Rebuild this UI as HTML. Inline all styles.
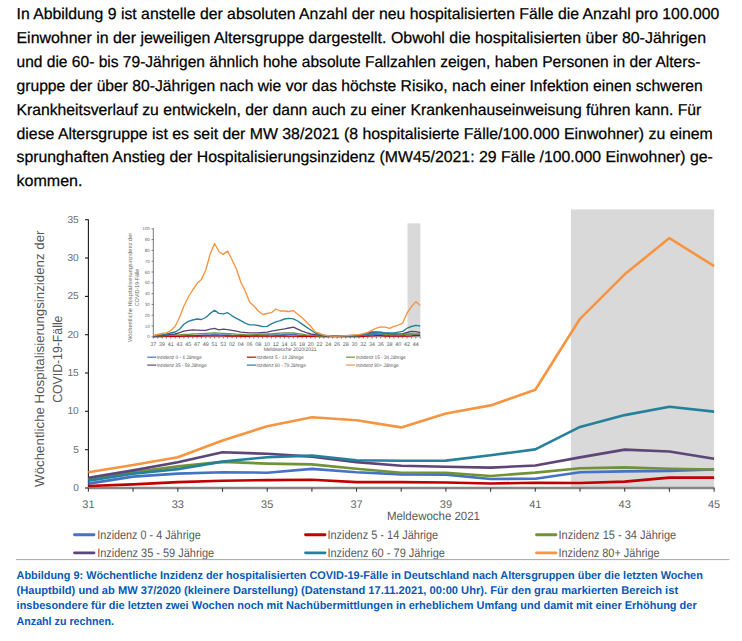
<!DOCTYPE html>
<html><head><meta charset="utf-8"><style>
html,body{margin:0;padding:0;background:#fff;width:742px;height:641px;overflow:hidden}
svg{display:block;font-family:'Liberation Sans', sans-serif;text-rendering:geometricPrecision}
</style></head><body>
<svg width="742" height="641" viewBox="0 0 742 641">
<text x="16.5" y="19.0" font-size="15.8" fill="#000" textLength="702.9" lengthAdjust="spacingAndGlyphs" stroke="#000" stroke-width="0.25">In Abbildung 9 ist anstelle der absoluten Anzahl der neu hospitalisierten Fälle die Anzahl pro 100.000</text>
<text x="16.5" y="42.9" font-size="15.8" fill="#000" textLength="689.5" lengthAdjust="spacingAndGlyphs" stroke="#000" stroke-width="0.25">Einwohner in der jeweiligen Altersgruppe dargestellt. Obwohl die hospitalisierten über 80-Jährigen</text>
<text x="16.5" y="66.8" font-size="15.8" fill="#000" textLength="683.9" lengthAdjust="spacingAndGlyphs" stroke="#000" stroke-width="0.25">und die 60- bis 79-Jährigen ähnlich hohe absolute Fallzahlen zeigen, haben Personen in der Alters-</text>
<text x="16.5" y="90.7" font-size="15.8" fill="#000" textLength="686.3" lengthAdjust="spacingAndGlyphs" stroke="#000" stroke-width="0.25">gruppe der über 80-Jährigen nach wie vor das höchste Risiko, nach einer Infektion einen schweren</text>
<text x="16.5" y="114.6" font-size="15.8" fill="#000" textLength="684.8" lengthAdjust="spacingAndGlyphs" stroke="#000" stroke-width="0.25">Krankheitsverlauf zu entwickeln, der dann auch zu einer Krankenhauseinweisung führen kann. Für</text>
<text x="16.5" y="138.5" font-size="15.8" fill="#000" textLength="696.3" lengthAdjust="spacingAndGlyphs" stroke="#000" stroke-width="0.25">diese Altersgruppe ist es seit der MW 38/2021 (8 hospitalisierte Fälle/100.000 Einwohner) zu einem</text>
<text x="16.5" y="162.4" font-size="15.8" fill="#000" textLength="696.3" lengthAdjust="spacingAndGlyphs" stroke="#000" stroke-width="0.25">sprunghaften Anstieg der Hospitalisierungsinzidenz (MW45/2021: 29 Fälle /100.000 Einwohner) ge-</text>
<text x="16.5" y="186.3" font-size="15.8" fill="#000" textLength="66.0" lengthAdjust="spacingAndGlyphs" stroke="#000" stroke-width="0.25">kommen.</text>
<rect x="570.9" y="209.4" width="143.2" height="278.6" fill="#d9d9d9"/>
<line x1="88.4" y1="219.4" x2="88.4" y2="488" stroke="#1a1a1a" stroke-width="1.1"/>
<line x1="85" y1="488.0" x2="88.4" y2="488.0" stroke="#1a1a1a" stroke-width="1.1"/>
<text x="78.8" y="491.0" font-size="10.2" text-anchor="end" fill="#6e6e6e">0</text>
<line x1="85" y1="449.7" x2="88.4" y2="449.7" stroke="#1a1a1a" stroke-width="1.1"/>
<text x="78.8" y="452.7" font-size="10.2" text-anchor="end" fill="#6e6e6e">5</text>
<line x1="85" y1="411.3" x2="88.4" y2="411.3" stroke="#1a1a1a" stroke-width="1.1"/>
<text x="78.8" y="414.3" font-size="10.2" text-anchor="end" fill="#6e6e6e">10</text>
<line x1="85" y1="373.0" x2="88.4" y2="373.0" stroke="#1a1a1a" stroke-width="1.1"/>
<text x="78.8" y="376.0" font-size="10.2" text-anchor="end" fill="#6e6e6e">15</text>
<line x1="85" y1="334.7" x2="88.4" y2="334.7" stroke="#1a1a1a" stroke-width="1.1"/>
<text x="78.8" y="337.7" font-size="10.2" text-anchor="end" fill="#6e6e6e">20</text>
<line x1="85" y1="296.4" x2="88.4" y2="296.4" stroke="#1a1a1a" stroke-width="1.1"/>
<text x="78.8" y="299.4" font-size="10.2" text-anchor="end" fill="#6e6e6e">25</text>
<line x1="85" y1="258.0" x2="88.4" y2="258.0" stroke="#1a1a1a" stroke-width="1.1"/>
<text x="78.8" y="261.0" font-size="10.2" text-anchor="end" fill="#6e6e6e">30</text>
<line x1="85" y1="219.7" x2="88.4" y2="219.7" stroke="#1a1a1a" stroke-width="1.1"/>
<text x="78.8" y="222.7" font-size="10.2" text-anchor="end" fill="#6e6e6e">35</text>
<line x1="87.9" y1="488" x2="714.6" y2="488" stroke="#868686" stroke-width="2.4"/>
<line x1="88.4" y1="488" x2="88.4" y2="491.8" stroke="#404040" stroke-width="1.1"/>
<text x="88.4" y="508.0" font-size="11" text-anchor="middle" fill="#636363">31</text>
<line x1="133.1" y1="488" x2="133.1" y2="491.8" stroke="#404040" stroke-width="1.1"/>
<line x1="177.8" y1="488" x2="177.8" y2="491.8" stroke="#404040" stroke-width="1.1"/>
<text x="177.8" y="508.0" font-size="11" text-anchor="middle" fill="#636363">33</text>
<line x1="222.5" y1="488" x2="222.5" y2="491.8" stroke="#404040" stroke-width="1.1"/>
<line x1="267.2" y1="488" x2="267.2" y2="491.8" stroke="#404040" stroke-width="1.1"/>
<text x="267.2" y="508.0" font-size="11" text-anchor="middle" fill="#636363">35</text>
<line x1="311.9" y1="488" x2="311.9" y2="491.8" stroke="#404040" stroke-width="1.1"/>
<line x1="356.5" y1="488" x2="356.5" y2="491.8" stroke="#404040" stroke-width="1.1"/>
<text x="356.5" y="508.0" font-size="11" text-anchor="middle" fill="#636363">37</text>
<line x1="401.2" y1="488" x2="401.2" y2="491.8" stroke="#404040" stroke-width="1.1"/>
<line x1="445.9" y1="488" x2="445.9" y2="491.8" stroke="#404040" stroke-width="1.1"/>
<text x="445.9" y="508.0" font-size="11" text-anchor="middle" fill="#636363">39</text>
<line x1="490.6" y1="488" x2="490.6" y2="491.8" stroke="#404040" stroke-width="1.1"/>
<line x1="535.3" y1="488" x2="535.3" y2="491.8" stroke="#404040" stroke-width="1.1"/>
<text x="535.3" y="508.0" font-size="11" text-anchor="middle" fill="#636363">41</text>
<line x1="580.0" y1="488" x2="580.0" y2="491.8" stroke="#404040" stroke-width="1.1"/>
<line x1="624.7" y1="488" x2="624.7" y2="491.8" stroke="#404040" stroke-width="1.1"/>
<text x="624.7" y="508.0" font-size="11" text-anchor="middle" fill="#636363">43</text>
<line x1="669.4" y1="488" x2="669.4" y2="491.8" stroke="#404040" stroke-width="1.1"/>
<line x1="714.1" y1="488" x2="714.1" y2="491.8" stroke="#404040" stroke-width="1.1"/>
<text x="714.1" y="508.0" font-size="11" text-anchor="middle" fill="#636363">45</text>
<polyline points="88.4,483.6 133.1,476.6 177.8,473.6 222.5,472.2 267.2,472.7 311.9,468.9 356.5,472.3 401.2,474.4 445.9,474.6 490.6,479.0 535.3,478.7 580.0,472.2 624.7,471.4 669.4,470.9 714.1,469.5" fill="none" stroke="#4472c4" stroke-width="2.6" stroke-linejoin="round" stroke-linecap="butt"/>
<polyline points="88.4,486.0 133.1,484.4 177.8,482.1 222.5,480.7 267.2,480.1 311.9,479.7 356.5,482.1 401.2,482.1 445.9,482.5 490.6,483.5 535.3,482.7 580.0,483.0 624.7,481.6 669.4,477.6 714.1,477.6" fill="none" stroke="#c00000" stroke-width="2.6" stroke-linejoin="round" stroke-linecap="butt"/>
<polyline points="88.4,479.2 133.1,472.3 177.8,466.4 222.5,461.9 267.2,463.6 311.9,464.4 356.5,468.8 401.2,472.8 445.9,472.8 490.6,476.0 535.3,472.6 580.0,468.2 624.7,467.4 669.4,468.7 714.1,469.5" fill="none" stroke="#719237" stroke-width="2.6" stroke-linejoin="round" stroke-linecap="butt"/>
<polyline points="88.4,477.8 133.1,470.4 177.8,462.2 222.5,452.2 267.2,453.8 311.9,456.6 356.5,462.1 401.2,465.7 445.9,466.8 490.6,467.6 535.3,465.5 580.0,457.4 624.7,449.6 669.4,451.5 714.1,458.7" fill="none" stroke="#5c4579" stroke-width="2.6" stroke-linejoin="round" stroke-linecap="butt"/>
<polyline points="88.4,480.6 133.1,473.8 177.8,469.1 222.5,461.6 267.2,457.2 311.9,455.6 356.5,460.3 401.2,460.8 445.9,460.6 490.6,455.2 535.3,449.4 580.0,426.9 624.7,415.1 669.4,406.7 714.1,411.6" fill="none" stroke="#25809a" stroke-width="2.6" stroke-linejoin="round" stroke-linecap="butt"/>
<polyline points="88.4,472.2 133.1,465.0 177.8,457.2 222.5,440.5 267.2,426.2 311.9,417.3 356.5,420.2 401.2,427.4 445.9,413.5 490.6,405.4 535.3,389.7 580.0,318.8 624.7,274.3 669.4,238.1 714.1,266.1" fill="none" stroke="#f79440" stroke-width="2.6" stroke-linejoin="round" stroke-linecap="butt"/>
<g transform="translate(44.3,358.7) rotate(-90)">
<text x="0.0" y="0.0" font-size="13.2" text-anchor="middle" fill="#595959" textLength="256.4" lengthAdjust="spacingAndGlyphs">Wöchentliche Hospitalisierungsinzidenz der</text>
<text x="-0.5" y="17.8" font-size="13.2" text-anchor="middle" fill="#595959" textLength="87.3" lengthAdjust="spacingAndGlyphs">COVID-19-Fälle</text>
</g>
<text x="386.9" y="519.5" font-size="12" fill="#595959" textLength="93.1" lengthAdjust="spacingAndGlyphs">Meldewoche 2021</text>
<line x1="74.5" y1="534.75" x2="94" y2="534.75" stroke="#4472c4" stroke-width="2.8" stroke-linecap="round"/>
<text x="97.2" y="538.6" font-size="12.3" fill="#595959" textLength="103.5" lengthAdjust="spacingAndGlyphs">Inzidenz 0 - 4 Jährige</text>
<line x1="74.5" y1="552.8" x2="94" y2="552.8" stroke="#5c4579" stroke-width="2.8" stroke-linecap="round"/>
<text x="97.2" y="556.7" font-size="12.3" fill="#595959" textLength="117.0" lengthAdjust="spacingAndGlyphs">Inzidenz 35 - 59 Jährige</text>
<line x1="305.5" y1="534.75" x2="325" y2="534.75" stroke="#c00000" stroke-width="2.8" stroke-linecap="round"/>
<text x="327.4" y="538.6" font-size="12.3" fill="#595959" textLength="110.8" lengthAdjust="spacingAndGlyphs">Inzidenz 5 - 14 Jährige</text>
<line x1="305.5" y1="552.8" x2="325" y2="552.8" stroke="#25809a" stroke-width="2.8" stroke-linecap="round"/>
<text x="327.4" y="556.7" font-size="12.3" fill="#595959" textLength="117.6" lengthAdjust="spacingAndGlyphs">Inzidenz 60 - 79 Jährige</text>
<line x1="536.5" y1="534.75" x2="556" y2="534.75" stroke="#719237" stroke-width="2.8" stroke-linecap="round"/>
<text x="558.5" y="538.6" font-size="12.3" fill="#595959" textLength="117.7" lengthAdjust="spacingAndGlyphs">Inzidenz 15 - 34 Jährige</text>
<line x1="536.5" y1="552.8" x2="556" y2="552.8" stroke="#f79440" stroke-width="2.8" stroke-linecap="round"/>
<text x="558.5" y="556.7" font-size="12.3" fill="#595959" textLength="101.2" lengthAdjust="spacingAndGlyphs">Inzidenz 80+ Jährige</text>
<line x1="16" y1="559.6" x2="729.5" y2="559.6" stroke="#a6a6a6" stroke-width="1"/>
<text x="16.6" y="578.9" font-size="11.2" font-weight="bold" fill="#0559b8" textLength="686.2" lengthAdjust="spacingAndGlyphs">Abbildung 9: Wöchentliche Inzidenz der hospitalisierten COVID-19-Fälle in Deutschland nach Altersgruppen über die letzten Wochen</text>
<text x="16.6" y="594.1" font-size="11.2" font-weight="bold" fill="#0559b8" textLength="661.5" lengthAdjust="spacingAndGlyphs">(Hauptbild) und ab MW 37/2020 (kleinere Darstellung) (Datenstand 17.11.2021, 00:00 Uhr). Für den grau markierten Bereich ist</text>
<text x="16.6" y="609.4" font-size="11.2" font-weight="bold" fill="#0559b8" textLength="680.1" lengthAdjust="spacingAndGlyphs">insbesondere für die letzten zwei Wochen noch mit Nachübermittlungen in erheblichem Umfang und damit mit einer Erhöhung der</text>
<text x="16.6" y="624.6" font-size="11.2" font-weight="bold" fill="#0559b8" textLength="97.3" lengthAdjust="spacingAndGlyphs">Anzahl zu rechnen.</text>
<rect x="407.5" y="223.3" width="12.9" height="113.5" fill="#d9d9d9"/>
<line x1="153.3" y1="228.3" x2="153.3" y2="336.8" stroke="#6a6a6a" stroke-width="0.9"/>
<line x1="151.5" y1="336.8" x2="153.3" y2="336.8" stroke="#555" stroke-width="0.7"/>
<text x="149.7" y="338.4" font-size="4.5" text-anchor="end" fill="#707070">0</text>
<line x1="151.5" y1="326.0" x2="153.3" y2="326.0" stroke="#555" stroke-width="0.7"/>
<text x="149.7" y="327.6" font-size="4.5" text-anchor="end" fill="#707070">10</text>
<line x1="151.5" y1="315.2" x2="153.3" y2="315.2" stroke="#555" stroke-width="0.7"/>
<text x="149.7" y="316.8" font-size="4.5" text-anchor="end" fill="#707070">20</text>
<line x1="151.5" y1="304.4" x2="153.3" y2="304.4" stroke="#555" stroke-width="0.7"/>
<text x="149.7" y="306.0" font-size="4.5" text-anchor="end" fill="#707070">30</text>
<line x1="151.5" y1="293.6" x2="153.3" y2="293.6" stroke="#555" stroke-width="0.7"/>
<text x="149.7" y="295.2" font-size="4.5" text-anchor="end" fill="#707070">40</text>
<line x1="151.5" y1="282.8" x2="153.3" y2="282.8" stroke="#555" stroke-width="0.7"/>
<text x="149.7" y="284.4" font-size="4.5" text-anchor="end" fill="#707070">50</text>
<line x1="151.5" y1="272.0" x2="153.3" y2="272.0" stroke="#555" stroke-width="0.7"/>
<text x="149.7" y="273.6" font-size="4.5" text-anchor="end" fill="#707070">60</text>
<line x1="151.5" y1="261.2" x2="153.3" y2="261.2" stroke="#555" stroke-width="0.7"/>
<text x="149.7" y="262.8" font-size="4.5" text-anchor="end" fill="#707070">70</text>
<line x1="151.5" y1="250.4" x2="153.3" y2="250.4" stroke="#555" stroke-width="0.7"/>
<text x="149.7" y="252.0" font-size="4.5" text-anchor="end" fill="#707070">80</text>
<line x1="151.5" y1="239.6" x2="153.3" y2="239.6" stroke="#555" stroke-width="0.7"/>
<text x="149.7" y="241.2" font-size="4.5" text-anchor="end" fill="#707070">90</text>
<line x1="151.5" y1="228.8" x2="153.3" y2="228.8" stroke="#555" stroke-width="0.7"/>
<text x="149.7" y="230.4" font-size="4.5" text-anchor="end" fill="#707070">100</text>
<line x1="153.3" y1="336.8" x2="420.2" y2="336.8" stroke="#8a8a8a" stroke-width="1.1"/>
<line x1="153.3" y1="336.8" x2="153.3" y2="338.6" stroke="#555" stroke-width="0.7"/>
<text x="153.3" y="346.0" font-size="5.4" text-anchor="middle" fill="#5a5a5a">37</text>
<line x1="157.7" y1="336.8" x2="157.7" y2="338.6" stroke="#555" stroke-width="0.7"/>
<line x1="162.1" y1="336.8" x2="162.1" y2="338.6" stroke="#555" stroke-width="0.7"/>
<text x="162.1" y="346.0" font-size="5.4" text-anchor="middle" fill="#5a5a5a">39</text>
<line x1="166.4" y1="336.8" x2="166.4" y2="338.6" stroke="#555" stroke-width="0.7"/>
<line x1="170.8" y1="336.8" x2="170.8" y2="338.6" stroke="#555" stroke-width="0.7"/>
<text x="170.8" y="346.0" font-size="5.4" text-anchor="middle" fill="#5a5a5a">41</text>
<line x1="175.2" y1="336.8" x2="175.2" y2="338.6" stroke="#555" stroke-width="0.7"/>
<line x1="179.6" y1="336.8" x2="179.6" y2="338.6" stroke="#555" stroke-width="0.7"/>
<text x="179.6" y="346.0" font-size="5.4" text-anchor="middle" fill="#5a5a5a">43</text>
<line x1="183.9" y1="336.8" x2="183.9" y2="338.6" stroke="#555" stroke-width="0.7"/>
<line x1="188.3" y1="336.8" x2="188.3" y2="338.6" stroke="#555" stroke-width="0.7"/>
<text x="188.3" y="346.0" font-size="5.4" text-anchor="middle" fill="#5a5a5a">45</text>
<line x1="192.7" y1="336.8" x2="192.7" y2="338.6" stroke="#555" stroke-width="0.7"/>
<line x1="197.1" y1="336.8" x2="197.1" y2="338.6" stroke="#555" stroke-width="0.7"/>
<text x="197.1" y="346.0" font-size="5.4" text-anchor="middle" fill="#5a5a5a">47</text>
<line x1="201.4" y1="336.8" x2="201.4" y2="338.6" stroke="#555" stroke-width="0.7"/>
<line x1="205.8" y1="336.8" x2="205.8" y2="338.6" stroke="#555" stroke-width="0.7"/>
<text x="205.8" y="346.0" font-size="5.4" text-anchor="middle" fill="#5a5a5a">49</text>
<line x1="210.2" y1="336.8" x2="210.2" y2="338.6" stroke="#555" stroke-width="0.7"/>
<line x1="214.6" y1="336.8" x2="214.6" y2="338.6" stroke="#555" stroke-width="0.7"/>
<text x="214.6" y="346.0" font-size="5.4" text-anchor="middle" fill="#5a5a5a">51</text>
<line x1="218.9" y1="336.8" x2="218.9" y2="338.6" stroke="#555" stroke-width="0.7"/>
<line x1="223.3" y1="336.8" x2="223.3" y2="338.6" stroke="#555" stroke-width="0.7"/>
<text x="223.3" y="346.0" font-size="5.4" text-anchor="middle" fill="#5a5a5a">53</text>
<line x1="227.7" y1="336.8" x2="227.7" y2="338.6" stroke="#555" stroke-width="0.7"/>
<line x1="232.1" y1="336.8" x2="232.1" y2="338.6" stroke="#555" stroke-width="0.7"/>
<text x="232.1" y="346.0" font-size="5.4" text-anchor="middle" fill="#5a5a5a">02</text>
<line x1="236.4" y1="336.8" x2="236.4" y2="338.6" stroke="#555" stroke-width="0.7"/>
<line x1="240.8" y1="336.8" x2="240.8" y2="338.6" stroke="#555" stroke-width="0.7"/>
<text x="240.8" y="346.0" font-size="5.4" text-anchor="middle" fill="#5a5a5a">04</text>
<line x1="245.2" y1="336.8" x2="245.2" y2="338.6" stroke="#555" stroke-width="0.7"/>
<line x1="249.6" y1="336.8" x2="249.6" y2="338.6" stroke="#555" stroke-width="0.7"/>
<text x="249.6" y="346.0" font-size="5.4" text-anchor="middle" fill="#5a5a5a">06</text>
<line x1="253.9" y1="336.8" x2="253.9" y2="338.6" stroke="#555" stroke-width="0.7"/>
<line x1="258.3" y1="336.8" x2="258.3" y2="338.6" stroke="#555" stroke-width="0.7"/>
<text x="258.3" y="346.0" font-size="5.4" text-anchor="middle" fill="#5a5a5a">08</text>
<line x1="262.7" y1="336.8" x2="262.7" y2="338.6" stroke="#555" stroke-width="0.7"/>
<line x1="267.1" y1="336.8" x2="267.1" y2="338.6" stroke="#555" stroke-width="0.7"/>
<text x="267.1" y="346.0" font-size="5.4" text-anchor="middle" fill="#5a5a5a">10</text>
<line x1="271.4" y1="336.8" x2="271.4" y2="338.6" stroke="#555" stroke-width="0.7"/>
<line x1="275.8" y1="336.8" x2="275.8" y2="338.6" stroke="#555" stroke-width="0.7"/>
<text x="275.8" y="346.0" font-size="5.4" text-anchor="middle" fill="#5a5a5a">12</text>
<line x1="280.2" y1="336.8" x2="280.2" y2="338.6" stroke="#555" stroke-width="0.7"/>
<line x1="284.6" y1="336.8" x2="284.6" y2="338.6" stroke="#555" stroke-width="0.7"/>
<text x="284.6" y="346.0" font-size="5.4" text-anchor="middle" fill="#5a5a5a">14</text>
<line x1="288.9" y1="336.8" x2="288.9" y2="338.6" stroke="#555" stroke-width="0.7"/>
<line x1="293.3" y1="336.8" x2="293.3" y2="338.6" stroke="#555" stroke-width="0.7"/>
<text x="293.3" y="346.0" font-size="5.4" text-anchor="middle" fill="#5a5a5a">16</text>
<line x1="297.7" y1="336.8" x2="297.7" y2="338.6" stroke="#555" stroke-width="0.7"/>
<line x1="302.1" y1="336.8" x2="302.1" y2="338.6" stroke="#555" stroke-width="0.7"/>
<text x="302.1" y="346.0" font-size="5.4" text-anchor="middle" fill="#5a5a5a">18</text>
<line x1="306.4" y1="336.8" x2="306.4" y2="338.6" stroke="#555" stroke-width="0.7"/>
<line x1="310.8" y1="336.8" x2="310.8" y2="338.6" stroke="#555" stroke-width="0.7"/>
<text x="310.8" y="346.0" font-size="5.4" text-anchor="middle" fill="#5a5a5a">20</text>
<line x1="315.2" y1="336.8" x2="315.2" y2="338.6" stroke="#555" stroke-width="0.7"/>
<line x1="319.6" y1="336.8" x2="319.6" y2="338.6" stroke="#555" stroke-width="0.7"/>
<text x="319.6" y="346.0" font-size="5.4" text-anchor="middle" fill="#5a5a5a">22</text>
<line x1="323.9" y1="336.8" x2="323.9" y2="338.6" stroke="#555" stroke-width="0.7"/>
<line x1="328.3" y1="336.8" x2="328.3" y2="338.6" stroke="#555" stroke-width="0.7"/>
<text x="328.3" y="346.0" font-size="5.4" text-anchor="middle" fill="#5a5a5a">24</text>
<line x1="332.7" y1="336.8" x2="332.7" y2="338.6" stroke="#555" stroke-width="0.7"/>
<line x1="337.1" y1="336.8" x2="337.1" y2="338.6" stroke="#555" stroke-width="0.7"/>
<text x="337.1" y="346.0" font-size="5.4" text-anchor="middle" fill="#5a5a5a">26</text>
<line x1="341.4" y1="336.8" x2="341.4" y2="338.6" stroke="#555" stroke-width="0.7"/>
<line x1="345.8" y1="336.8" x2="345.8" y2="338.6" stroke="#555" stroke-width="0.7"/>
<text x="345.8" y="346.0" font-size="5.4" text-anchor="middle" fill="#5a5a5a">28</text>
<line x1="350.2" y1="336.8" x2="350.2" y2="338.6" stroke="#555" stroke-width="0.7"/>
<line x1="354.6" y1="336.8" x2="354.6" y2="338.6" stroke="#555" stroke-width="0.7"/>
<text x="354.6" y="346.0" font-size="5.4" text-anchor="middle" fill="#5a5a5a">30</text>
<line x1="358.9" y1="336.8" x2="358.9" y2="338.6" stroke="#555" stroke-width="0.7"/>
<line x1="363.3" y1="336.8" x2="363.3" y2="338.6" stroke="#555" stroke-width="0.7"/>
<text x="363.3" y="346.0" font-size="5.4" text-anchor="middle" fill="#5a5a5a">32</text>
<line x1="367.7" y1="336.8" x2="367.7" y2="338.6" stroke="#555" stroke-width="0.7"/>
<line x1="372.1" y1="336.8" x2="372.1" y2="338.6" stroke="#555" stroke-width="0.7"/>
<text x="372.1" y="346.0" font-size="5.4" text-anchor="middle" fill="#5a5a5a">34</text>
<line x1="376.4" y1="336.8" x2="376.4" y2="338.6" stroke="#555" stroke-width="0.7"/>
<line x1="380.8" y1="336.8" x2="380.8" y2="338.6" stroke="#555" stroke-width="0.7"/>
<text x="380.8" y="346.0" font-size="5.4" text-anchor="middle" fill="#5a5a5a">36</text>
<line x1="385.2" y1="336.8" x2="385.2" y2="338.6" stroke="#555" stroke-width="0.7"/>
<line x1="389.6" y1="336.8" x2="389.6" y2="338.6" stroke="#555" stroke-width="0.7"/>
<text x="389.6" y="346.0" font-size="5.4" text-anchor="middle" fill="#5a5a5a">38</text>
<line x1="393.9" y1="336.8" x2="393.9" y2="338.6" stroke="#555" stroke-width="0.7"/>
<line x1="398.3" y1="336.8" x2="398.3" y2="338.6" stroke="#555" stroke-width="0.7"/>
<text x="398.3" y="346.0" font-size="5.4" text-anchor="middle" fill="#5a5a5a">40</text>
<line x1="402.7" y1="336.8" x2="402.7" y2="338.6" stroke="#555" stroke-width="0.7"/>
<line x1="407.1" y1="336.8" x2="407.1" y2="338.6" stroke="#555" stroke-width="0.7"/>
<text x="407.1" y="346.0" font-size="5.4" text-anchor="middle" fill="#5a5a5a">42</text>
<line x1="411.4" y1="336.8" x2="411.4" y2="338.6" stroke="#555" stroke-width="0.7"/>
<line x1="415.8" y1="336.8" x2="415.8" y2="338.6" stroke="#555" stroke-width="0.7"/>
<text x="415.8" y="346.0" font-size="5.4" text-anchor="middle" fill="#5a5a5a">44</text>
<line x1="420.2" y1="336.8" x2="420.2" y2="338.6" stroke="#555" stroke-width="0.7"/>
<text x="263.7" y="351.4" font-size="5.2" fill="#555" textLength="52.8" lengthAdjust="spacingAndGlyphs">Meldewoche 2020/2021</text>
<polyline points="153.3,336.5 157.7,336.4 162.1,336.3 166.4,336.2 170.8,336.1 175.2,336.0 179.6,335.9 183.9,335.8 188.3,335.7 192.7,335.6 197.1,335.5 201.4,335.2 205.8,335.0 210.2,334.8 214.6,334.5 218.9,334.7 223.3,334.8 227.7,335.0 232.1,335.2 236.4,335.3 240.8,335.5 245.2,335.4 249.6,335.3 253.9,335.2 258.3,335.2 262.7,335.1 267.1,335.0 271.4,334.9 275.8,334.8 280.2,334.8 284.6,334.7 288.9,334.6 293.3,334.5 297.7,334.9 302.1,335.2 306.4,335.6 310.8,336.0 315.2,336.0 319.6,336.0 323.9,336.1 328.3,336.1 332.7,336.1 337.1,336.1 341.4,336.1 345.8,336.2 350.2,336.2 354.6,336.2 358.9,336.2 363.3,335.2 367.7,334.8 372.1,334.6 376.4,334.6 380.8,334.1 385.2,334.6 389.6,334.9 393.9,334.9 398.3,335.5 402.7,335.5 407.1,334.6 411.4,334.5 415.8,334.4 420.2,334.2" fill="none" stroke="#4472c4" stroke-width="1.35" stroke-linejoin="round"/>
<polyline points="153.3,336.6 157.7,336.5 162.1,336.5 166.4,336.4 170.8,336.4 175.2,336.3 179.6,336.3 183.9,336.2 188.3,336.1 192.7,336.1 197.1,336.0 201.4,336.0 205.8,335.9 210.2,335.9 214.6,335.8 218.9,335.9 223.3,335.9 227.7,336.0 232.1,336.1 236.4,336.1 240.8,336.2 245.2,336.2 249.6,336.2 253.9,336.1 258.3,336.1 262.7,336.1 267.1,336.1 271.4,336.1 275.8,336.0 280.2,336.0 284.6,336.0 288.9,336.1 293.3,336.1 297.7,336.2 302.1,336.2 306.4,336.3 310.8,336.4 315.2,336.4 319.6,336.5 323.9,336.5 328.3,336.6 332.7,336.6 337.1,336.6 341.4,336.6 345.8,336.6 350.2,336.6 354.6,336.6 358.9,336.5 363.3,336.3 367.7,336.0 372.1,335.8 376.4,335.7 380.8,335.6 385.2,336.0 389.6,336.0 393.9,336.0 398.3,336.2 402.7,336.1 407.1,336.1 411.4,335.9 415.8,335.3 420.2,335.3" fill="none" stroke="#c00000" stroke-width="1.35" stroke-linejoin="round"/>
<polyline points="153.3,336.3 157.7,336.0 162.1,335.8 166.4,335.5 170.8,335.3 175.2,335.0 179.6,334.8 183.9,334.5 188.3,334.3 192.7,334.0 197.1,333.8 201.4,333.6 205.8,333.4 210.2,333.2 214.6,333.0 218.9,333.2 223.3,333.4 227.7,333.6 232.1,333.8 236.4,334.1 240.8,334.3 245.2,334.6 249.6,334.8 253.9,334.6 258.3,334.4 262.7,334.2 267.1,334.0 271.4,333.8 275.8,333.5 280.2,333.2 284.6,333.0 288.9,333.0 293.3,333.0 297.7,333.6 302.1,334.2 306.4,334.8 310.8,335.2 315.2,335.6 319.6,336.0 323.9,336.0 328.3,335.9 332.7,335.9 337.1,335.9 341.4,335.9 345.8,335.9 350.2,335.8 354.6,335.8 358.9,335.6 363.3,334.6 367.7,333.8 372.1,333.1 376.4,333.4 380.8,333.5 385.2,334.1 389.6,334.7 393.9,334.7 398.3,335.1 402.7,334.6 407.1,334.0 411.4,333.9 415.8,334.1 420.2,334.2" fill="none" stroke="#719237" stroke-width="1.35" stroke-linejoin="round"/>
<polyline points="153.3,336.5 157.7,336.0 162.1,335.5 166.4,335.0 170.8,334.5 175.2,334.0 179.6,332.6 183.9,331.1 188.3,330.4 192.7,329.9 197.1,330.1 201.4,330.4 205.8,330.4 210.2,329.2 214.6,328.4 218.9,329.9 223.3,329.2 227.7,329.7 232.1,330.4 236.4,331.2 240.8,332.1 245.2,332.5 249.6,332.8 253.9,332.8 258.3,332.8 262.7,332.5 267.1,332.1 271.4,331.1 275.8,330.4 280.2,329.7 284.6,328.9 288.9,328.0 293.3,327.2 297.7,329.2 302.1,331.2 306.4,332.6 310.8,334.0 315.2,334.6 319.6,335.2 323.9,335.8 328.3,335.8 332.7,335.7 337.1,335.7 341.4,335.6 345.8,335.6 350.2,335.5 354.6,335.5 358.9,335.4 363.3,334.3 367.7,333.2 372.1,331.8 376.4,332.0 380.8,332.4 385.2,333.2 389.6,333.7 393.9,333.8 398.3,333.9 402.7,333.6 407.1,332.5 411.4,331.4 415.8,331.7 420.2,332.7" fill="none" stroke="#5c4579" stroke-width="1.35" stroke-linejoin="round"/>
<polyline points="153.3,336.0 157.7,335.3 162.1,334.7 166.4,334.0 170.8,333.0 175.2,332.0 179.6,329.2 183.9,324.3 188.3,321.4 192.7,320.0 197.1,319.0 201.4,319.5 205.8,317.5 210.2,313.4 214.6,310.2 218.9,313.4 223.3,313.9 227.7,312.7 232.1,315.8 236.4,318.3 240.8,320.7 245.2,323.1 249.6,324.8 253.9,324.8 258.3,325.5 262.7,326.7 267.1,326.3 271.4,323.8 275.8,321.9 280.2,320.7 284.6,319.0 288.9,318.3 293.3,318.8 297.7,321.0 302.1,324.1 306.4,327.1 310.8,330.0 315.2,333.0 319.6,334.5 323.9,335.1 328.3,335.8 332.7,335.8 337.1,335.8 341.4,335.8 345.8,335.8 350.2,335.8 354.6,335.8 358.9,335.8 363.3,334.8 367.7,334.1 372.1,333.1 376.4,332.5 380.8,332.2 385.2,332.9 389.6,333.0 393.9,332.9 398.3,332.2 402.7,331.4 407.1,328.2 411.4,326.5 415.8,325.3 420.2,326.0" fill="none" stroke="#25809a" stroke-width="1.35" stroke-linejoin="round"/>
<polyline points="153.3,335.5 157.7,334.5 162.1,333.5 166.4,332.8 170.8,330.5 175.2,326.3 179.6,317.0 183.9,306.0 188.3,297.0 192.7,290.0 197.1,283.6 201.4,279.4 205.8,270.0 210.2,254.0 214.6,243.5 218.9,251.5 223.3,254.4 227.7,251.0 232.1,260.0 236.4,269.0 240.8,282.0 245.2,291.0 249.6,302.0 253.9,306.0 258.3,311.0 262.7,314.5 267.1,313.5 271.4,312.7 275.8,309.0 280.2,311.0 284.6,311.0 288.9,311.5 293.3,310.6 297.7,314.2 302.1,317.8 306.4,322.1 310.8,326.5 315.2,331.9 319.6,333.5 323.9,335.1 328.3,335.6 332.7,336.2 337.1,336.1 341.4,335.9 345.8,335.6 350.2,335.3 354.6,334.9 358.9,334.6 363.3,333.6 367.7,332.5 372.1,330.1 376.4,328.1 380.8,326.8 385.2,327.2 389.6,328.3 393.9,326.3 398.3,325.2 402.7,323.0 407.1,313.0 411.4,306.7 415.8,301.6 420.2,305.5" fill="none" stroke="#f79440" stroke-width="1.35" stroke-linejoin="round"/>
<g transform="translate(131.9,287.4) rotate(-90)">
<text x="0.0" y="0.0" font-size="5.8" text-anchor="middle" fill="#666" textLength="109.3" lengthAdjust="spacingAndGlyphs">Wöchentliche Hospitalisierungsinzidenz der</text>
<text x="0.0" y="7.4" font-size="5.8" text-anchor="middle" fill="#666" textLength="37.0" lengthAdjust="spacingAndGlyphs">COVID-19-Fälle</text>
</g>
<line x1="147.3" y1="357.2" x2="156.3" y2="357.2" stroke="#4472c4" stroke-width="1.2"/>
<text x="156.7" y="359.0" font-size="5.0" fill="#555" textLength="44.9" lengthAdjust="spacingAndGlyphs">Inzidenz 0 - 4 Jährige</text>
<line x1="147.3" y1="365.1" x2="156.3" y2="365.1" stroke="#5c4579" stroke-width="1.2"/>
<text x="156.7" y="366.9" font-size="5.0" fill="#555" textLength="49.8" lengthAdjust="spacingAndGlyphs">Inzidenz 35 - 59 Jährige</text>
<line x1="246.9" y1="357.2" x2="255.9" y2="357.2" stroke="#c00000" stroke-width="1.2"/>
<text x="256.2" y="359.0" font-size="5.0" fill="#555" textLength="47.4" lengthAdjust="spacingAndGlyphs">Inzidenz 5 - 14 Jährige</text>
<line x1="246.9" y1="365.1" x2="255.9" y2="365.1" stroke="#25809a" stroke-width="1.2"/>
<text x="256.2" y="366.9" font-size="5.0" fill="#555" textLength="49.6" lengthAdjust="spacingAndGlyphs">Inzidenz 60 - 79 Jährige</text>
<line x1="346.1" y1="357.2" x2="355.1" y2="357.2" stroke="#719237" stroke-width="1.2"/>
<text x="356.0" y="359.0" font-size="5.0" fill="#555" textLength="49.6" lengthAdjust="spacingAndGlyphs">Inzidenz 15 - 34 Jährige</text>
<line x1="346.1" y1="365.1" x2="355.1" y2="365.1" stroke="#f79440" stroke-width="1.2"/>
<text x="356.0" y="366.9" font-size="5.0" fill="#555" textLength="42.5" lengthAdjust="spacingAndGlyphs">Inzidenz 80+ Jährige</text>
</svg>
</body></html>
